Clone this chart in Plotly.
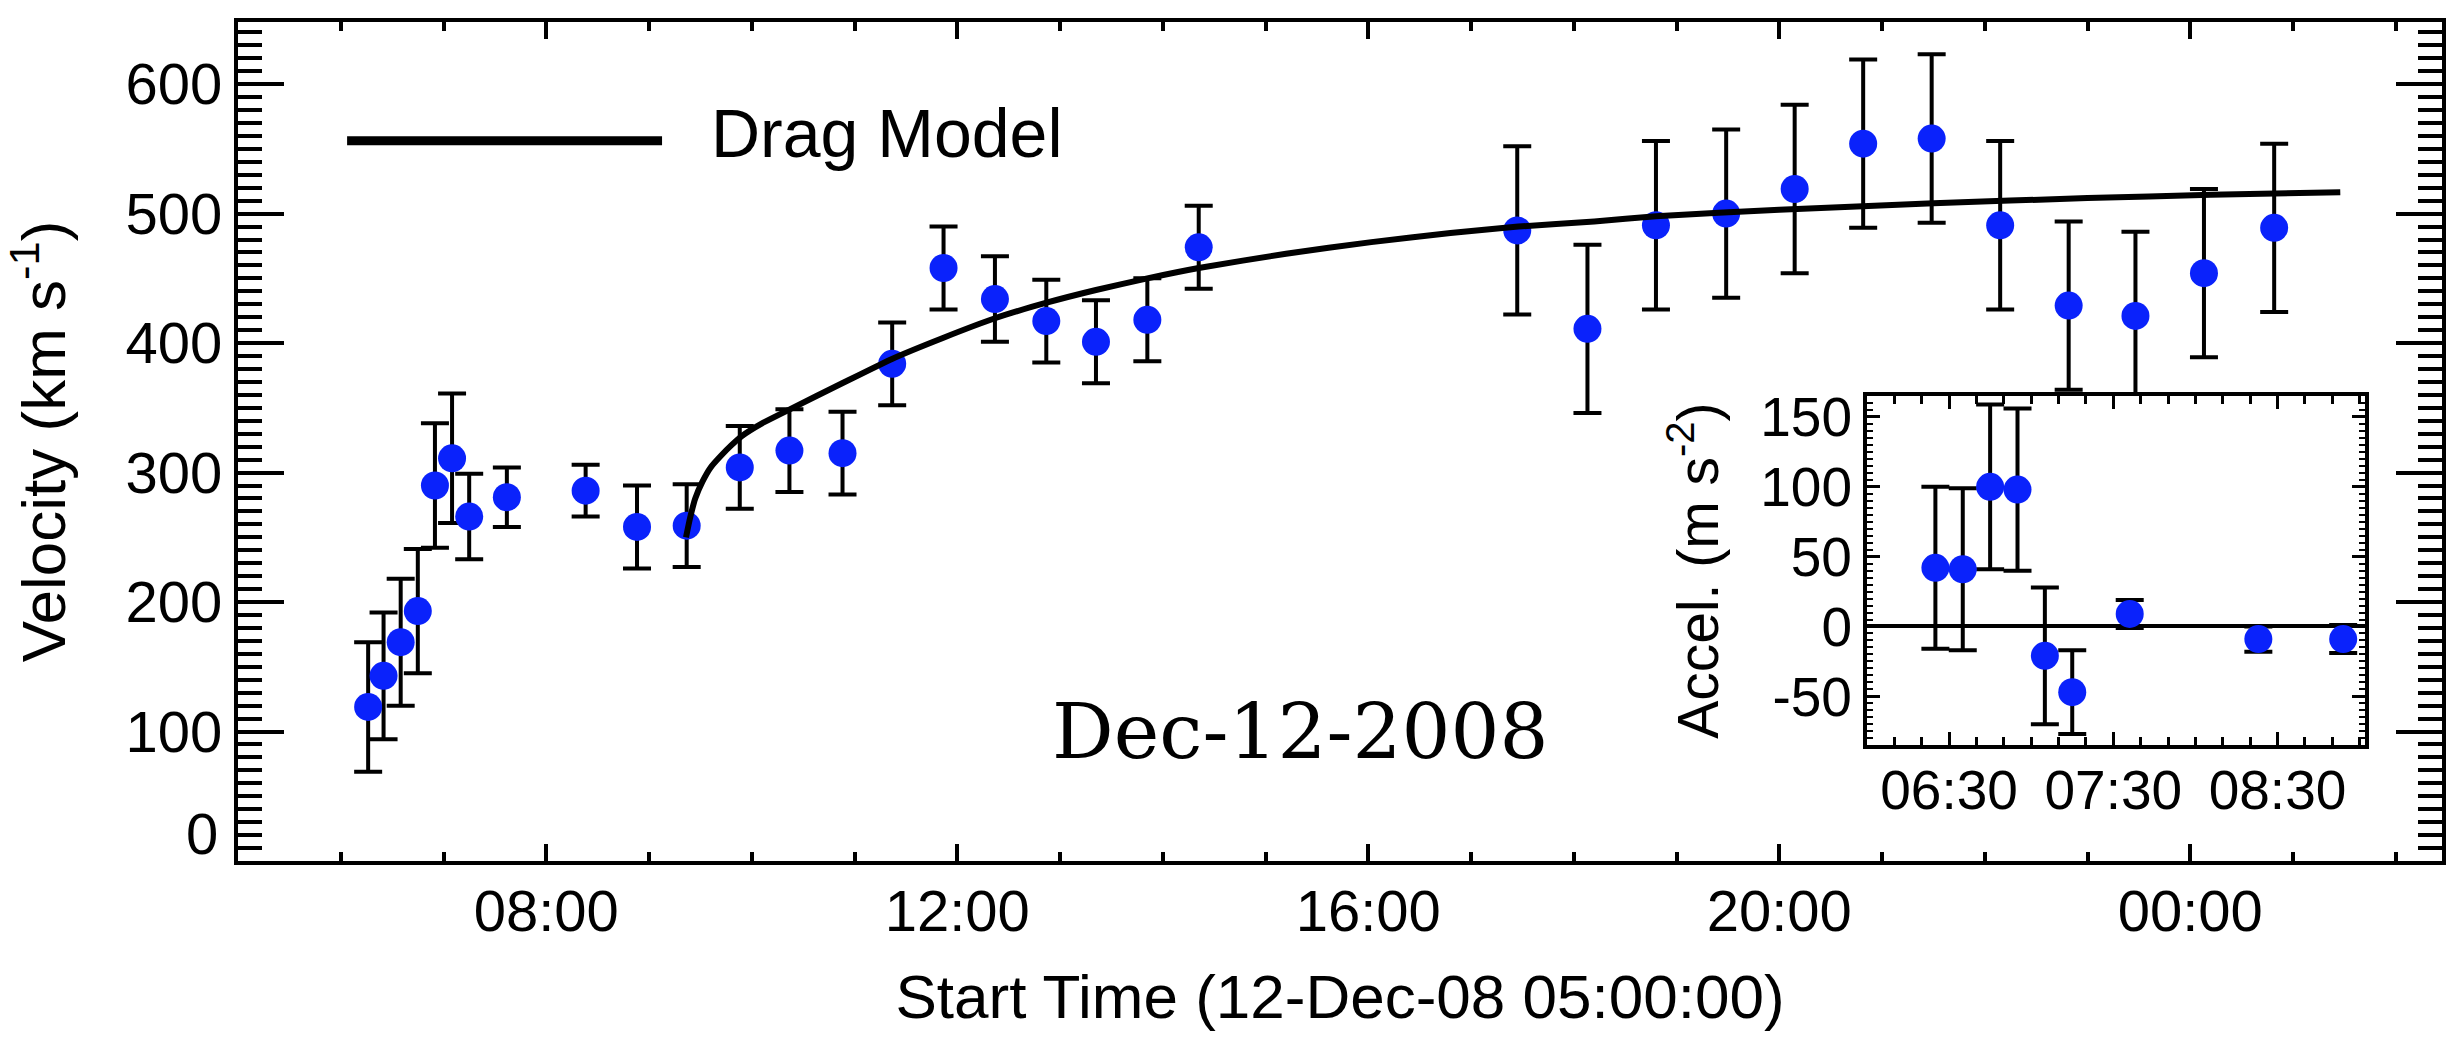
import plotly.graph_objects as go

DAY0 = "2008-12-12"
DAY1 = "2008-12-13"


def ts(hhmm):
    h = int(hhmm[:2])
    return (DAY1 if h < 5 else DAY0) + " " + hhmm


# ---- main panel: CME velocity ----
vel_times = ["06:16", "06:25", "06:35", "06:45", "06:55", "07:05", "07:15", "07:37",
             "08:23", "08:53", "09:22", "09:53", "10:22", "10:53", "11:22", "11:52",
             "12:22", "12:52", "13:21", "13:51", "14:21", "17:27", "18:08", "18:48",
             "19:29", "20:09", "20:49", "21:29", "22:09", "22:49", "23:28", "00:08", "00:49"]
vel = [119, 143, 169, 193, 290, 311, 266, 281,
       286, 258, 259, 304, 317, 315, 384, 458,
       434, 417, 401, 418, 474, 487, 411, 491,
       500, 519, 554, 558, 491, 429, 421, 454, 489]
vel_err = [50, 49, 49, 48, 48, 50, 33, 23,
           20, 32, 32, 32, 32, 32, 32, 32,
           33, 32, 32, 32, 32, 65, 65, 65,
           65, 65, 65, 65, 65, 65, 65, 65, 65]

drag_times = ["09:21:36", "09:24:00", "09:27:00", "09:31:12", "09:36:00", "09:42:00",
              "09:48:00", "09:54:00", "10:06:00", "10:22:30", "10:52:48", "11:22:12",
              "11:51:36", "12:21:36", "12:51:36", "13:21:00", "13:51:00", "14:21:00",
              "15:12:00", "16:01:48", "16:48:00", "17:27:36", "18:12:00", "18:48:00",
              "20:00:00", "21:30:00", "23:00:00", "00:12:00", "01:27:36"]
drag_vel = [250, 265, 280, 293, 304, 313,
            321, 328, 338, 349, 369, 388,
            404, 419, 431, 441, 450, 458,
            469, 478, 485, 490, 494, 498,
            503, 508, 512, 514.5, 516.6]

# ---- inset: acceleration ----
acc_times = ["06:25", "06:35", "06:45", "06:55", "07:05", "07:15", "07:36", "08:23", "08:54"]
acc = [42, 41, 100, 98, -21, -47, 9, -9, -9]
acc_err = [58, 58, 59, 58, 49, 30, 10, 9, 10]

y_ticks = [0, 100, 200, 300, 400, 500, 600]
y_ticktext = ["", "100", "200", "300", "400", "500", "600"]
acc_ticks = [-50, 0, 50, 100, 150]
acc_ticktext = ["-50", "0", "50", "100", "150"]

FONT = "Liberation Sans, Arial, Helvetica, sans-serif"
BLUE = "#0a22fb"

fig = go.Figure()

fig.add_trace(go.Scatter(
    x=[ts(t) for t in vel_times], y=vel,
    mode="markers",
    marker=dict(color=BLUE, size=28, line=dict(width=0)),
    error_y=dict(type="data", array=vel_err, color="black", thickness=4, width=14),
    showlegend=False, xaxis="x", yaxis="y"))

fig.add_trace(go.Scatter(
    x=[ts(t) for t in drag_times], y=drag_vel,
    mode="lines", line=dict(color="black", width=6, shape="spline", smoothing=0.5),
    showlegend=False, xaxis="x", yaxis="y"))

fig.add_trace(go.Scatter(
    x=[ts(t) for t in acc_times], y=acc,
    mode="markers",
    marker=dict(color=BLUE, size=28, line=dict(width=0)),
    error_y=dict(type="data", array=acc_err, color="black", thickness=4, width=14),
    showlegend=False, xaxis="x2", yaxis="y2"))

fig.update_layout(
    width=2460, height=1037,
    margin=dict(l=238, r=18, t=13, b=176),
    paper_bgcolor="white", plot_bgcolor="white",
    font=dict(family=FONT, color="black", size=58),
    xaxis=dict(
        type="date", domain=[0, 1],
        range=[DAY0 + " 05:00", DAY1 + " 02:27"],
        tick0=DAY0 + " 08:00", dtick=4 * 3600 * 1000, tickformat="%H:%M",
        showline=True, linecolor="black", linewidth=4, mirror="allticks",
        ticks="inside", ticklen=17, tickwidth=4, tickcolor="black",
        minor=dict(dtick=3600 * 1000, ticks="inside", ticklen=9, tickwidth=4, tickcolor="black"),
        showgrid=False, zeroline=False,
        tickfont=dict(size=58), ticklabelstandoff=-4,
        title=dict(text="Start Time (12-Dec-08 05:00:00)", font=dict(size=62), standoff=34),
    ),
    yaxis=dict(
        range=[0, 648], domain=[0, 1],
        tickvals=y_ticks, ticktext=y_ticktext,
        showline=True, linecolor="black", linewidth=4, mirror="allticks",
        ticks="inside", ticklen=46, tickwidth=4, tickcolor="black",
        minor=dict(dtick=10, ticks="inside", ticklen=24, tickwidth=4, tickcolor="black"),
        showgrid=False, zeroline=False,
        tickfont=dict(size=58), ticklabelstandoff=0,
        title=dict(text="Velocity (km s<sup>-1</sup>)", font=dict(size=62), standoff=42),
    ),
    xaxis2=dict(
        type="date", domain=[0.7391, 0.9651], anchor="y2",
        range=[DAY0 + " 06:00", DAY0 + " 09:02"],
        tick0=DAY0 + " 06:30", dtick=3600 * 1000, tickformat="%H:%M",
        showline=True, linecolor="black", linewidth=4, mirror="allticks",
        ticks="inside", ticklen=13, tickwidth=3, tickcolor="black",
        minor=dict(dtick=600 * 1000, ticks="inside", ticklen=8, tickwidth=3, tickcolor="black"),
        showgrid=False, zeroline=False,
        tickfont=dict(size=55), ticklabelstandoff=-6,
    ),
    yaxis2=dict(
        domain=[0.138, 0.5542], anchor="x2",
        range=[-85, 165],
        tickvals=acc_ticks, ticktext=acc_ticktext,
        showline=True, linecolor="black", linewidth=4, mirror="allticks",
        ticks="inside", ticklen=13, tickwidth=3, tickcolor="black",
        minor=dict(dtick=5, ticks="inside", ticklen=6, tickwidth=2, tickcolor="black"),
        showgrid=False,
        zeroline=True, zerolinecolor="black", zerolinewidth=4,
        tickfont=dict(size=55), ticklabelstandoff=0,
        title=dict(text="Accel. (m s<sup>-2</sup>)", font=dict(size=57), standoff=24),
    ),
    showlegend=False,
)

# legend sample for the drag model
fig.add_shape(type="line", xref="paper", yref="paper",
              x0=0.0495, x1=0.1924, y0=0.8585, y1=0.8585,
              line=dict(color="black", width=9))
fig.add_annotation(text="Drag Model", xref="paper", yref="paper",
                   x=0.2137, y=0.868, xanchor="left", yanchor="middle",
                   showarrow=False, font=dict(size=68, family=FONT, color="black"))

# raised "0" label on the velocity axis
fig.add_annotation(text="0", xref="paper", yref="y",
                   x=-0.0082, y=21, xanchor="right", yanchor="middle",
                   showarrow=False, font=dict(size=58, family=FONT, color="black"))

# event date
fig.add_annotation(text="Dec-12-2008", xref="paper", yref="paper",
                   x=0.4819, y=0.1545, xanchor="center", yanchor="middle",
                   showarrow=False, font=dict(size=77, family="DejaVu Serif", color="black"))

fig.write_html("out.html")
